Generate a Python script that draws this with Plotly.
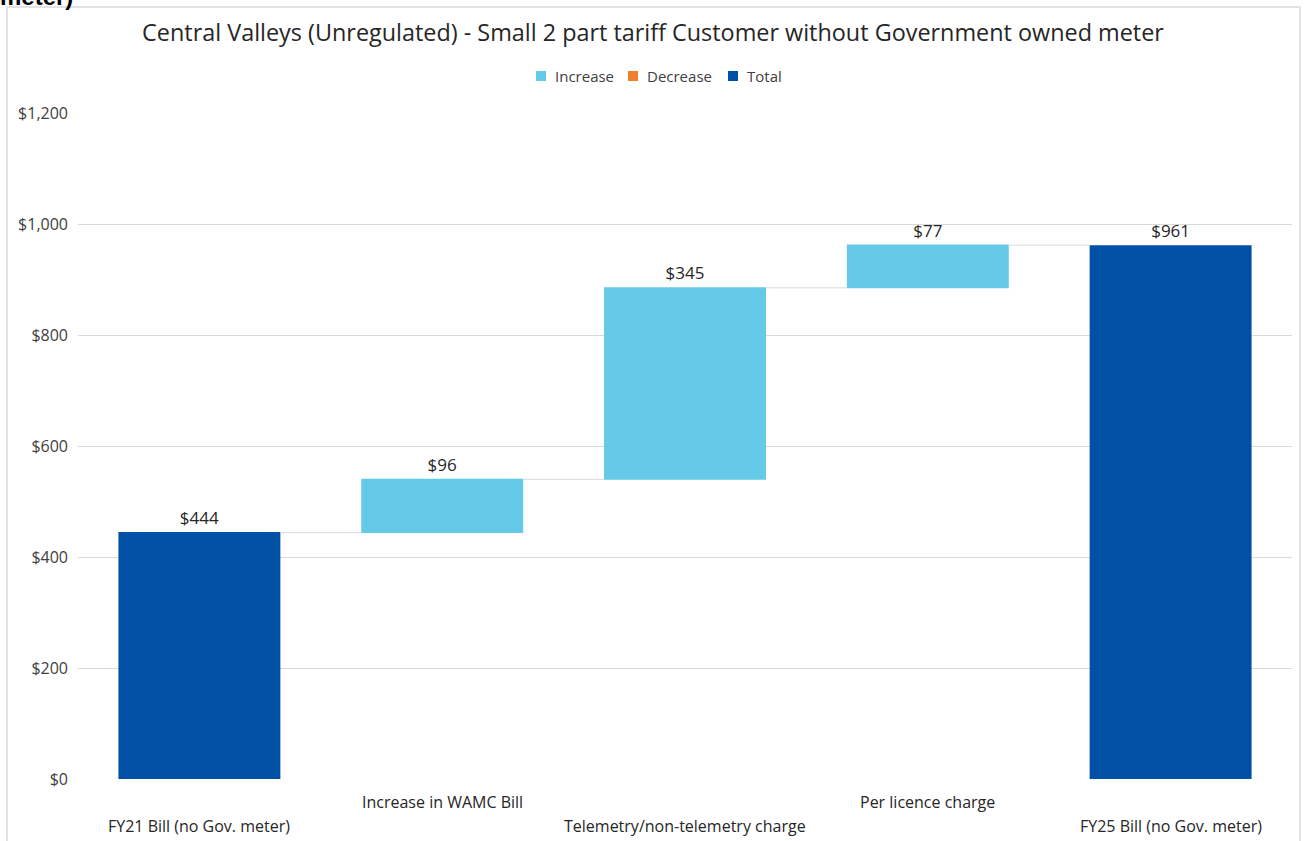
import plotly.graph_objects as go

categories = ["FY21 Bill (no Gov. meter)", "Increase in WAMC Bill",
              "Telemetry/non-telemetry charge", "Per licence charge",
              "FY25 Bill (no Gov. meter)"]
measures = ["absolute", "relative", "relative", "relative", "absolute"]
values = [444, 96, 345, 77, 961]
value_labels = ["$444", "$96", "$345", "$77", "$961"]
legend_names = ["Increase", "Decrease", "Total"]
legend_colors = ["#65C9E8", "#F08030", "#0050A5"]
y_ticks = [0, 200, 400, 600, 800, 1000, 1200]
y_tick_labels = ["$0", "$200", "$400", "$600", "$800", "$1,000", "$1,200"]

W, H = 1306, 841
L, R, T, B = 78, 14, 113, 62
pw, ph = W - L - R, H - T - B

def px_x(px):
    return (px - L) / pw

def px_y(py):
    return (H - B - py) / ph

fig = go.Figure()
fig.add_trace(go.Waterfall(
    x=categories, y=values, measure=measures,
    text=value_labels, textposition="outside", textinfo="text",
    textfont=dict(size=17, color="#262626", family="Open Sans"),
    increasing=dict(marker=dict(color=legend_colors[0])),
    decreasing=dict(marker=dict(color=legend_colors[1])),
    totals=dict(marker=dict(color=legend_colors[2])),
    connector=dict(line=dict(color="#D9D9D9", width=1)),
    showlegend=False, cliponaxis=False, hoverinfo="skip",
))

annotations = []
shapes = []
for i, c in enumerate(categories):
    annotations.append(dict(
        x=c, y=0, xref="x", yref="y", text=c, showarrow=False,
        yshift=-23 if i % 2 == 1 else -47, yanchor="middle",
        font=dict(size=16, color="#262626", family="Open Sans"),
    ))

# manual legend
sq_left = [536, 628, 728]
for name, col, sx in zip(legend_names, legend_colors, sq_left):
    shapes.append(dict(type="rect", xref="paper", yref="paper",
                       x0=px_x(sx), x1=px_x(sx + 10),
                       y0=px_y(81), y1=px_y(71),
                       fillcolor=col, line=dict(width=0)))
    annotations.append(dict(
        x=px_x(sx + 17), y=px_y(76), xref="paper", yref="paper", text=name,
        showarrow=False, xanchor="left", yanchor="middle",
        font=dict(size=15, color="#404040", family="Open Sans"),
    ))

annotations.append(dict(
    x=px_x(-2), y=px_y(-4), xref="paper", yref="paper", text="<b>meter)</b>",
    showarrow=False, xanchor="left", yanchor="middle",
    font=dict(size=24, color="#000000", family="Liberation Sans"),
))

shapes.append(dict(type="rect", xref="paper", yref="paper",
                   x0=px_x(7), x1=px_x(1300), y0=px_y(850), y1=px_y(7),
                   line=dict(color="#D9D9D9", width=1.5), layer="below"))

fig.update_layout(
    width=W, height=H,
    margin=dict(l=L, r=R, t=T, b=B),
    paper_bgcolor="white", plot_bgcolor="white",
    title=dict(
        text="Central Valleys (Unregulated) - Small 2 part tariff Customer without Government owned meter",
        x=0.5, xref="container", y=1 - 33 / H, yanchor="middle",
        font=dict(size=23.4, color="#262626", family="Open Sans"),
    ),
    showlegend=False,
    waterfallgap=0.333,
    xaxis=dict(showticklabels=False, showgrid=False, zeroline=False,
               showline=False, ticks=""),
    yaxis=dict(range=[0, 1200], tickvals=y_ticks, ticktext=y_tick_labels,
               showgrid=True, gridcolor="#D9D9D9", ticklabelstandoff=9,
               gridwidth=1, zeroline=False, showline=False, ticks="",
               tickfont=dict(size=16, color="#404040", family="Open Sans")),
    annotations=annotations,
    shapes=shapes,
)

fig.write_html("out.html", config={"displayModeBar": False},
               post_script="document.body.style.margin='0';")
